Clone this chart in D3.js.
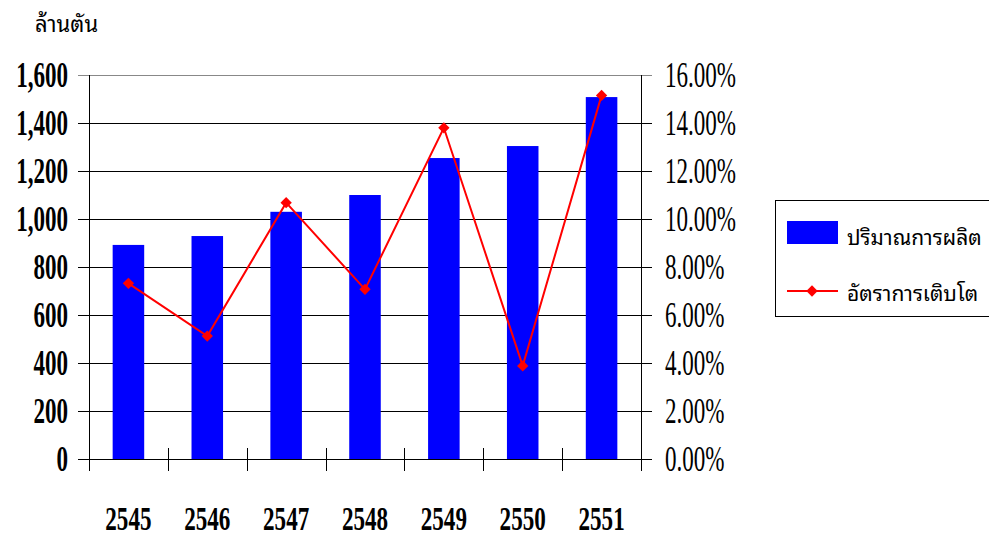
<!DOCTYPE html>
<html>
<head>
<meta charset="utf-8">
<script src="https://cdn.jsdelivr.net/npm/d3@7"></script>
<style>
  body { margin: 0; background: #fff; }
  svg { display: block; }
</style>
</head>
<body>
<div id="chart"></div>
<script>
const width = 989;
const height = 538;

// data
var years = ["2545", "2546", "2547", "2548", "2549", "2550", "2551"];
var production = [892, 929, 1030, 1100, 1254, 1304, 1508];
var growth = [0.0732, 0.0512, 0.1068, 0.0707, 0.138, 0.0388, 0.1515];
var leftTicks = [0, 200, 400, 600, 800, 1000, 1200, 1400, 1600];
var rightTicks = [0, 0.02, 0.04, 0.06, 0.08, 0.10, 0.12, 0.14, 0.16];
var seriesNames = ["ปริมาณการผลิต", "อัตราการเติบโต"];
var unitLabel = "ล้านตัน";

var plot = {left: 89, right: 641, top: 75, bottom: 459};
var numFont = "'Liberation Serif', 'Times New Roman', serif";
var thaiFont = "'Noto Sans Thai Looped', Loma, Garuda, Tahoma, 'Noto Sans Thai', sans-serif";
var squeeze = 0.64;

var svg = d3.select("#chart").append("svg")
  .attr("width", width).attr("height", height);

var x = d3.scaleBand().domain(years).range([plot.left, plot.right]);
var y = d3.scaleLinear().domain([0, 1600]).range([plot.bottom, plot.top]);
var y2 = d3.scaleLinear().domain([0, 0.16]).range([plot.bottom, plot.top]);

// gridlines
svg.append("g").selectAll("line").data(leftTicks).enter().append("line")
  .attr("x1", plot.left - 11).attr("x2", plot.right + 11)
  .attr("y1", (d) => Math.round(y(d)) + 0.5)
  .attr("y2", (d) => Math.round(y(d)) + 0.5)
  .attr("stroke", (d) => d == 1600 ? "#888" : "#000")
  .attr("stroke-width", 1);

// axis lines
svg.append("line")
  .attr("x1", plot.left + 0.5).attr("x2", plot.left + 0.5)
  .attr("y1", plot.top).attr("y2", plot.bottom + 12)
  .attr("stroke", "#000");
svg.append("line")
  .attr("x1", plot.right + 0.5).attr("x2", plot.right + 0.5)
  .attr("y1", plot.top).attr("y2", plot.bottom + 12)
  .attr("stroke", "#000");

// bars
var barW = x.bandwidth() * 0.4;
svg.append("g").selectAll("rect").data(production).enter().append("rect")
  .attr("x", (d, i) => x(years[i]) + (x.bandwidth() - barW) / 2)
  .attr("y", (d) => y(d))
  .attr("width", barW)
  .attr("height", (d) => plot.bottom - y(d))
  .attr("fill", "#0000ff");

// baseline + category ticks (crossing)
svg.append("line")
  .attr("x1", plot.left - 11).attr("x2", plot.right + 11)
  .attr("y1", plot.bottom + 0.5).attr("y2", plot.bottom + 0.5)
  .attr("stroke", "#000");
var bounds = years.map((d) => x(d)).concat([plot.right]);
svg.append("g").selectAll("line").data(bounds).enter().append("line")
  .attr("x1", (d) => Math.round(d) + 0.5).attr("x2", (d) => Math.round(d) + 0.5)
  .attr("y1", plot.bottom - 11).attr("y2", plot.bottom + 12)
  .attr("stroke", "#000");

// growth line
var line = d3.line()
  .x((d, i) => x(years[i]) + x.bandwidth() / 2)
  .y((d) => y2(d));
svg.append("path").datum(growth)
  .attr("d", line)
  .attr("fill", "none")
  .attr("stroke", "#ff0000")
  .attr("stroke-width", 2);
var diamond = d3.symbol().type(d3.symbolSquare).size(64);
svg.append("g").selectAll("path").data(growth).enter().append("path")
  .attr("d", diamond)
  .attr("transform", (d, i) => "translate(" + (x(years[i]) + x.bandwidth() / 2) + "," + y2(d) + ") rotate(45)")
  .attr("fill", "#ff0000");

// left labels
var fmtLeft = d3.format(",");
svg.append("g").selectAll("text").data(leftTicks).enter().append("text")
  .attr("transform", (d) => "translate(68," + (y(d) + 12) + ") scale(" + squeeze + ",1)")
  .attr("text-anchor", "end")
  .style("font-family", numFont)
  .style("font-weight", "bold")
  .style("font-size", "36px")
  .text((d) => fmtLeft(d));

// right labels
var fmtRight = d3.format(".2%");
svg.append("g").selectAll("text").data(rightTicks).enter().append("text")
  .attr("transform", (d) => "translate(665," + (y2(d) + 12) + ") scale(" + squeeze + ",1)")
  .style("font-family", numFont)
  .style("font-size", "36px")
  .text((d) => fmtRight(d));

// category labels
svg.append("g").selectAll("text").data(years).enter().append("text")
  .attr("transform", (d) => "translate(" + (x(d) + x.bandwidth() / 2) + ",530) scale(0.68,1)")
  .attr("text-anchor", "middle")
  .style("font-family", numFont)
  .style("font-weight", "bold")
  .style("font-size", "34px")
  .text((d) => d);

// unit label
svg.append("text")
  .attr("x", 35).attr("y", 32)
  .style("font-family", thaiFont)
  .style("font-size", "22px")
  .text(unitLabel);

// legend
var lg = svg.append("g");
lg.append("rect")
  .attr("x", 775.5).attr("y", 200.5)
  .attr("width", 240).attr("height", 116)
  .attr("fill", "#fff").attr("stroke", "#000");
lg.append("rect")
  .attr("x", 787).attr("y", 221).attr("width", 51).attr("height", 23)
  .attr("fill", "#0000ff");
lg.append("line")
  .attr("x1", 787).attr("x2", 838).attr("y1", 291).attr("y2", 291)
  .attr("stroke", "#ff0000").attr("stroke-width", 2);
lg.append("path")
  .attr("d", diamond)
  .attr("transform", "translate(812,291) rotate(45)")
  .attr("fill", "#ff0000");
lg.selectAll("text.name").data(seriesNames).enter().append("text")
  .attr("class", "name")
  .attr("x", 847)
  .attr("y", (d, i) => i == 0 ? 245 : 301)
  .style("font-family", thaiFont)
  .style("font-size", "21px")
  .text((d) => d);
</script>
</body>
</html>
